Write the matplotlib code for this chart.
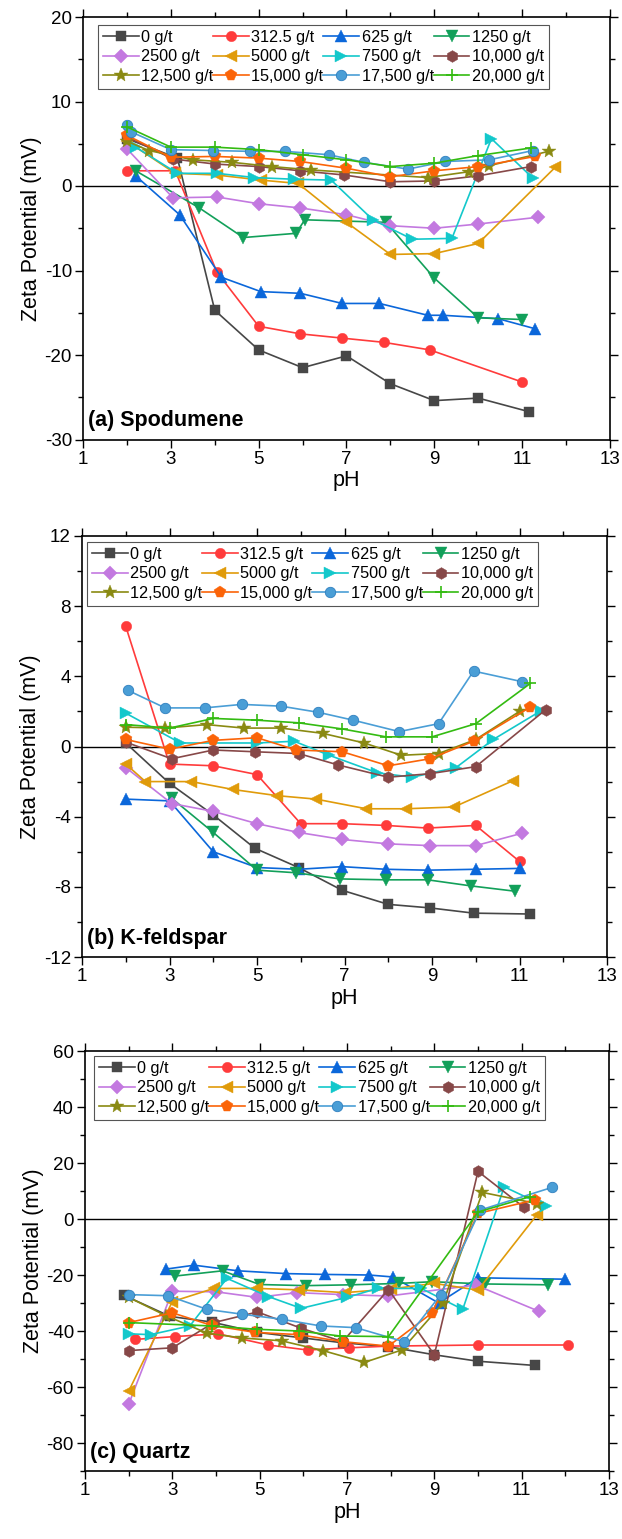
import matplotlib
matplotlib.use("Agg")
import matplotlib.pyplot as plt
import numpy as np
from matplotlib.ticker import MultipleLocator, FixedLocator

plt.rcParams['font.family'] = ['Liberation Sans', 'DejaVu Sans']
plt.rcParams['axes.unicode_minus'] = False

# Collector dosages (legend labels)
dosages = ["0 g/t", "312.5 g/t", "625 g/t", "1250 g/t", "2500 g/t", "5000 g/t",
           "7500 g/t", "10,000 g/t", "12,500 g/t", "15,000 g/t", "17,500 g/t", "20,000 g/t"]

# (a) Spodumene: pH and zeta potential (mV) for each dosage
spod_ph = [
    [2.0, 3.15, 4.0, 5.0, 6.0, 7.0, 8.0, 9.0, 10.0, 11.15],
    [2.0, 3.1, 4.05, 5.0, 5.95, 6.9, 7.85, 8.9, 11.0],
    [2.2, 3.2, 4.15, 5.05, 5.95, 6.9, 7.75, 8.85, 9.2, 10.45, 11.3],
    [2.2, 3.65, 4.65, 5.85, 6.05, 7.9, 9.0, 10.0, 11.0],
    [2.0, 3.05, 4.05, 5.0, 5.95, 7.0, 8.0, 9.0, 10.0, 11.35],
    [2.0, 3.1, 4.05, 5.05, 5.9, 7.0, 8.0, 9.0, 10.0, 11.75],
    [2.2, 3.15, 4.05, 4.9, 5.8, 6.65, 7.6, 8.5, 9.4, 10.3, 11.25],
    [2.0, 3.05, 4.0, 5.0, 5.95, 6.95, 8.0, 9.0, 10.0, 11.2],
    [2.0, 2.5, 3.5, 4.4, 5.3, 6.2, 8.85, 9.8, 10.25, 11.6],
    [2.0, 3.0, 4.0, 5.0, 5.95, 7.0, 8.0, 9.0, 10.0, 11.3],
    [2.0, 2.1, 3.0, 3.95, 4.8, 5.6, 6.6, 7.4, 8.4, 9.25, 10.25, 11.25],
    [2.0, 3.0, 4.0, 5.0, 6.0, 7.0, 8.0, 9.0, 10.0, 11.2],
]
spod_zeta = [
    [5.6, 3.3, -14.7, -19.4, -21.5, -20.1, -23.4, -25.4, -25.1, -26.7],
    [1.8, 1.8, -10.2, -16.6, -17.5, -18.0, -18.5, -19.4, -23.2],
    [1.2, -3.4, -10.8, -12.5, -12.7, -13.9, -13.9, -15.3, -15.3, -15.7, -16.9],
    [1.8, -2.6, -6.1, -5.6, -4.0, -4.3, -10.9, -15.6, -15.8],
    [4.4, -1.4, -1.3, -2.1, -2.6, -3.4, -4.7, -5.0, -4.5, -3.7],
    [5.3, 1.5, 1.3, 0.7, 0.3, -4.3, -8.1, -8.0, -6.8, 2.2],
    [4.6, 1.5, 1.5, 1.0, 0.8, 0.7, -4.0, -6.3, -6.2, 5.6, 0.9],
    [5.8, 3.2, 2.6, 2.3, 1.8, 1.3, 0.5, 0.6, 1.2, 2.3],
    [5.3, 4.2, 3.1, 2.8, 2.3, 1.9, 1.0, 1.7, 2.4, 4.1],
    [6.0, 3.4, 3.5, 3.3, 2.9, 2.1, 1.1, 1.8, 2.3, 3.5],
    [7.2, 6.4, 4.3, 4.2, 4.1, 4.1, 3.7, 2.8, 2.0, 2.9, 3.1, 4.2],
    [7.0, 4.6, 4.6, 4.3, 3.7, 3.1, 2.3, 2.7, 3.6, 4.5],
]

# (b) K-feldspar
kfel_ph = [
    [2.0, 3.0, 4.0, 4.95, 5.95, 6.95, 8.0, 8.95, 9.95, 11.25],
    [2.0, 3.0, 4.0, 5.0, 6.0, 6.95, 7.95, 8.9, 10.0, 11.0],
    [2.0, 3.0, 4.0, 5.0, 5.95, 6.95, 7.95, 8.9, 10.0, 11.0],
    [3.05, 4.0, 5.0, 5.9, 6.9, 7.95, 8.9, 9.9, 10.9],
    [2.0, 3.05, 4.0, 5.0, 5.95, 6.95, 8.0, 8.95, 10.0, 11.05],
    [2.0, 2.45, 3.5, 4.45, 5.45, 6.35, 7.5, 8.4, 9.5, 10.85],
    [2.0, 3.25, 5.0, 5.85, 6.65, 7.75, 8.55, 9.55, 10.4, 11.5],
    [2.0, 3.05, 4.0, 4.95, 5.95, 6.85, 8.0, 8.95, 10.0, 11.6],
    [2.0, 2.9, 3.85, 4.7, 5.55, 6.5, 7.45, 8.3, 9.15, 10.0, 11.0],
    [2.0, 3.0, 4.0, 5.0, 5.9, 6.95, 8.0, 8.95, 9.95, 11.25],
    [2.05, 2.9, 3.8, 4.65, 5.55, 6.4, 7.2, 8.25, 9.15, 9.95, 11.05],
    [2.0, 3.0, 4.0, 5.0, 5.95, 6.95, 7.95, 9.0, 10.0, 11.25],
]
kfel_zeta = [
    [0.2, -2.1, -3.9, -5.8, -6.9, -8.2, -9.0, -9.2, -9.5, -9.55],
    [6.85, -1.0, -1.1, -1.6, -4.4, -4.4, -4.5, -4.65, -4.5, -6.55],
    [-3.0, -3.1, -6.0, -6.9, -7.0, -6.85, -7.0, -7.05, -7.0, -6.95],
    [-2.95, -4.9, -7.05, -7.2, -7.55, -7.6, -7.6, -7.95, -8.25],
    [-1.2, -3.25, -3.7, -4.4, -4.9, -5.3, -5.55, -5.65, -5.65, -4.95],
    [-1.0, -2.0, -2.0, -2.45, -2.8, -3.0, -3.55, -3.55, -3.45, -1.95],
    [1.9, 0.2, 0.2, 0.3, -0.5, -1.5, -1.75, -1.2, 0.4, 2.05],
    [0.25, -0.7, -0.2, -0.3, -0.4, -1.05, -1.75, -1.55, -1.15, 2.1],
    [1.1, 1.05, 1.25, 1.05, 1.05, 0.75, 0.2, -0.5, -0.4, 0.4, 2.0],
    [0.4, -0.15, 0.35, 0.5, -0.2, -0.3, -1.1, -0.7, 0.3, 2.25],
    [3.2, 2.2, 2.2, 2.4, 2.3, 1.95, 1.5, 0.85, 1.3, 4.3, 3.7],
    [1.25, 1.05, 1.6, 1.5, 1.35, 1.0, 0.55, 0.55, 1.3, 3.6],
]

# (c) Quartz
qtz_ph = [
    [1.9, 2.95, 3.9, 4.95, 6.0, 6.9, 7.95, 9.0, 10.0, 11.3],
    [2.15, 3.05, 4.05, 5.2, 6.1, 7.05, 7.95, 10.0, 12.05],
    [2.85, 3.5, 4.5, 5.6, 6.5, 7.5, 8.05, 9.1, 10.0, 12.0],
    [3.05, 4.15, 5.0, 6.05, 7.1, 8.2, 8.95, 10.15, 11.6],
    [2.0, 3.0, 4.0, 4.95, 5.85, 6.9, 7.95, 9.95, 11.4],
    [2.0, 3.0, 3.95, 4.95, 5.9, 6.95, 8.0, 9.0, 10.0, 11.35],
    [2.0, 2.5, 3.4, 4.25, 5.2, 5.95, 7.0, 7.7, 8.7, 9.65, 10.6, 11.55],
    [2.0, 3.0, 3.95, 4.95, 5.95, 6.9, 7.95, 9.0, 10.0, 11.05],
    [2.0, 2.85, 3.8, 4.6, 5.5, 6.45, 7.4, 8.25, 9.2, 10.1, 11.35],
    [2.0, 3.0, 3.9, 4.9, 5.9, 6.9, 7.95, 8.95, 10.0, 11.3],
    [2.0, 2.9, 3.8, 4.6, 5.5, 6.4, 7.2, 8.3, 9.15, 10.05, 11.7],
    [2.0, 3.9, 4.95, 5.9, 6.85, 7.95, 10.0, 11.2],
]
qtz_zeta = [
    [-27.3, -34.8, -36.8, -40.5, -42.5, -44.2, -45.6, -48.5, -50.8, -52.3],
    [-43.0, -42.0, -41.0, -45.0, -46.8, -46.0, -45.4, -45.0, -45.0],
    [-17.9, -16.5, -18.5, -19.5, -19.8, -20.0, -20.7, -30.0, -21.0, -21.5],
    [-20.4, -18.5, -23.4, -23.8, -23.5, -23.0, -22.4, -23.2, -23.5],
    [-66.2, -25.8, -26.0, -28.0, -26.3, -27.0, -27.5, -23.6, -33.0],
    [-61.5, -29.5, -24.8, -24.8, -25.3, -26.3, -25.0, -23.0, -25.4, 1.5],
    [-41.0, -41.3, -38.2, -21.2, -27.7, -31.9, -28.0, -24.8, -24.8, -32.3, 11.5, 4.5],
    [-47.0, -46.0, -37.0, -33.2, -39.0, -43.8, -25.2, -48.5, 17.0, 4.2],
    [-28.0, -34.5, -40.8, -42.5, -43.5, -47.0, -51.2, -46.8, -30.0, 9.5, 5.5],
    [-37.0, -33.5, -38.0, -40.5, -41.3, -43.8, -45.4, -33.5, 2.0, 6.8],
    [-27.0, -27.4, -32.3, -34.0, -35.8, -38.2, -38.8, -43.8, -27.0, 3.2, 11.3],
    [-37.0, -38.2, -39.4, -40.0, -41.8, -42.0, 2.5, 8.0],
]

colors = ["#474747", "#FF3B3B", "#0B67DA", "#12A05A", "#C379E0", "#E09B0A",
          "#13C8CB", "#874848", "#8A8A12", "#FB6408", "#4A9ED6", "#33BB11"]
markers = ["s", "o", "^", "v", "D", "<", ">", "h", "*", "p", "o", "+"]
msizes = [7, 7.5, 8, 8, 7, 8, 8, 8.5, 10, 8.5, 7.5, 9]

W, H = 622, 1539
fig = plt.figure(figsize=(W / 100, H / 100), dpi=100)


def px_axes(left, top, right, bottom):
    return fig.add_axes([left / W, 1 - bottom / H, (right - left) / W, (bottom - top) / H])


panels = [
    dict(box=(83, 17, 610, 439.5), ph=spod_ph, zeta=spod_zeta, ylim=(-30, 20), major=10, minor=5,
         title="(a) Spodumene", leg=(98, 25)),
    dict(box=(82, 536, 607, 957), ph=kfel_ph, zeta=kfel_zeta, ylim=(-12, 12), major=4, minor=2,
         title="(b) K-feldspar", leg=(87, 542)),
    dict(box=(85, 1051, 609, 1471), ph=qtz_ph, zeta=qtz_zeta, ylim=(-90, 60), major=20, minor=10,
         title="(c) Quartz", leg=(94, 1056)),
]

order = [0, 4, 8, 1, 5, 9, 2, 6, 10, 3, 7, 11]

for p in panels:
    l, t, r, b = p["box"]
    ax = px_axes(l, t, r, b)
    handles = []
    for i in range(len(dosages)):
        mk = markers[i]
        kw = dict(color=colors[i], marker=mk, markersize=msizes[i], linewidth=1.2,
                  label=dosages[i])
        if mk == "+":
            kw.update(markeredgewidth=1.2)
        elif i == 10:
            kw.update(markeredgecolor="#2F7FBF", markeredgewidth=0.6)
        else:
            kw.update(markeredgewidth=0.3)
        h, = ax.plot(p["ph"][i], p["zeta"][i], **kw)
        handles.append(h)
    ax.axhline(0, color="black", linewidth=1.0, zorder=0)
    ax.set_xlim(1, 13)
    ax.set_ylim(*p["ylim"])
    ax.xaxis.set_major_locator(FixedLocator(np.arange(1, 14, 2)))
    ax.xaxis.set_minor_locator(FixedLocator(np.arange(2, 13, 2)))
    ax.yaxis.set_major_locator(MultipleLocator(p["major"]))
    ax.yaxis.set_minor_locator(MultipleLocator(p["minor"]))
    ax.tick_params(which="both", direction="out", top=True, right=True, labelsize=13.5,
                   width=1.0, colors="black", pad=2)
    ax.tick_params(which="major", length=6)
    ax.tick_params(which="minor", length=3.5)
    for s in ax.spines.values():
        s.set_linewidth(1.2)
    ax.set_xlabel("pH", fontsize=15.5, labelpad=2)
    ax.set_ylabel("Zeta Potential (mV)", fontsize=15.5, labelpad=2)
    ax.text(0.01, 0.02, p["title"], transform=ax.transAxes, fontsize=15.5,
            fontweight="bold", ha="left", va="bottom")
    lx, ly = p["leg"]
    leg = ax.legend([handles[k] for k in order], [dosages[k] for k in order], ncol=4,
                    loc="upper left",
                    bbox_to_anchor=((lx - l) / (r - l), 1 - (ly - t) / (b - t)),
                    borderaxespad=0, fontsize=11.7, frameon=True, fancybox=False,
                    edgecolor="#555555", framealpha=1, handlelength=2.2,
                    handletextpad=0.15, columnspacing=0.0, labelspacing=0.28,
                    borderpad=0.3, markerscale=1.0)
    leg.get_frame().set_linewidth(0.8)

fig.savefig("out.png", dpi=100)
